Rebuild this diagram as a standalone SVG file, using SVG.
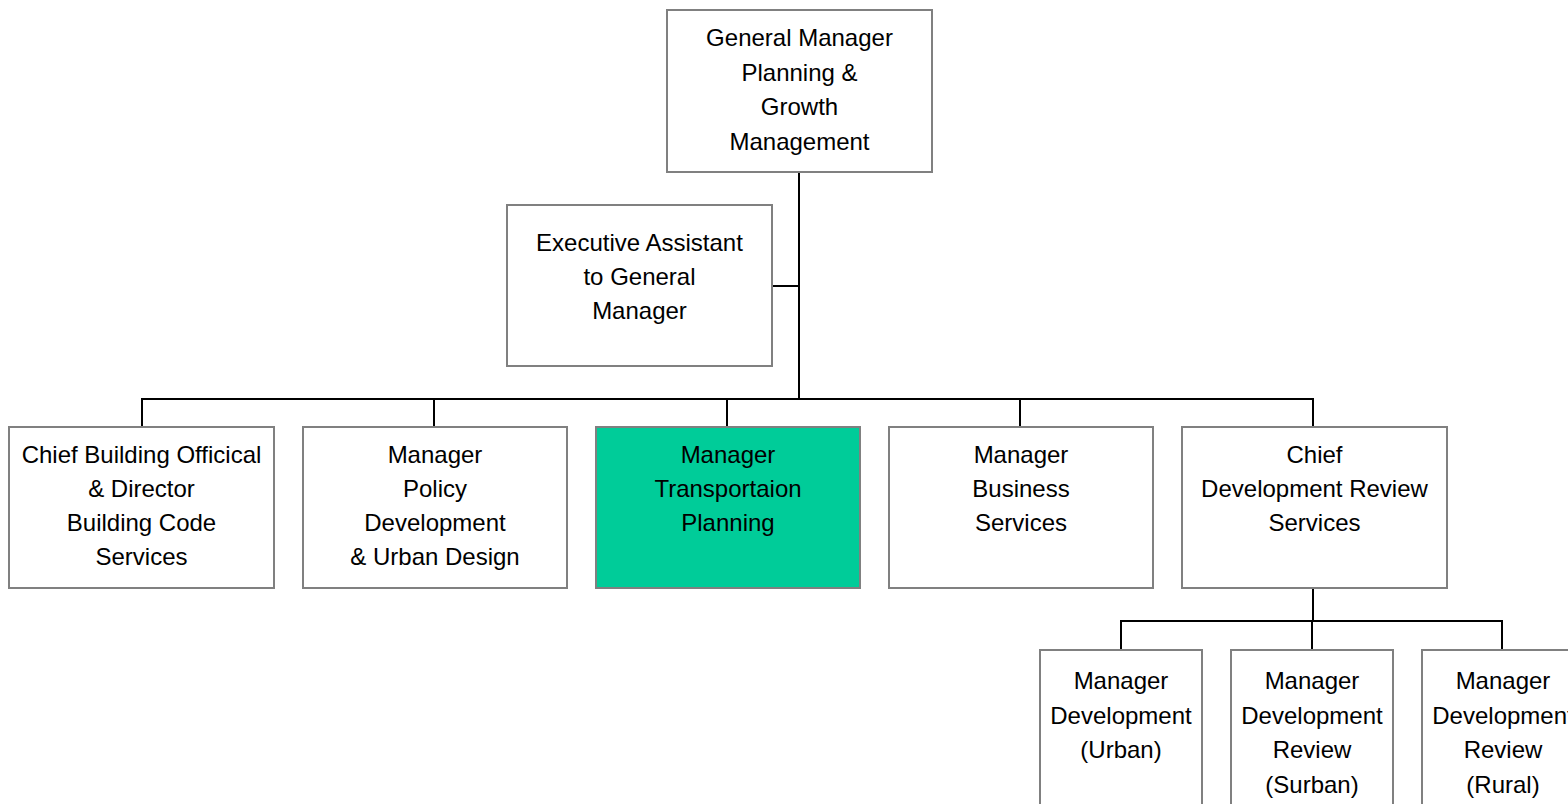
<svg xmlns="http://www.w3.org/2000/svg" width="1568" height="804" viewBox="0 0 1568 804">
  <style>
    .box { fill: #ffffff; stroke: #808080; stroke-width: 2; }
    .box.hl { fill: #00cc99; }
    .lbl { font-family: "Liberation Sans", Arial, sans-serif; font-size: 24px; fill: #000000; text-anchor: middle; }
    .wire { fill: none; stroke: #000000; stroke-width: 2; }
  </style>
  <rect width="1568" height="804" fill="#ffffff"/>

  <!-- reporting lines -->
  <g id="connectors">
    <path class="wire" d="M799 172 V399"/>
    <path class="wire" d="M772 286 H799"/>
    <path class="wire" d="M142 427 V399 H1313 V427"/>
    <path class="wire" d="M434 399 V427 M727 399 V427 M1020 399 V427"/>
    <path class="wire" d="M1313 588 V621"/>
    <path class="wire" d="M1121 650 V621 H1502 V650 M1312 621 V650"/>
  </g>

  <g id="general-manager">
    <rect class="box" x="667" y="10" width="265" height="162"/>
    <text class="lbl" x="799.5" y="46">General Manager</text>
    <text class="lbl" x="799.5" y="80.5">Planning &amp;</text>
    <text class="lbl" x="799.5" y="115">Growth</text>
    <text class="lbl" x="799.5" y="149.5">Management</text>
  </g>

  <g id="executive-assistant">
    <rect class="box" x="507" y="205" width="265" height="161"/>
    <text class="lbl" x="639.5" y="251">Executive Assistant</text>
    <text class="lbl" x="639.5" y="285">to General</text>
    <text class="lbl" x="639.5" y="319">Manager</text>
  </g>

  <g id="chief-building-official">
    <rect class="box" x="9" y="427" width="265" height="161"/>
    <text class="lbl" x="141.5" y="463">Chief Building Officical</text>
    <text class="lbl" x="141.5" y="497">&amp; Director</text>
    <text class="lbl" x="141.5" y="531">Building Code</text>
    <text class="lbl" x="141.5" y="565">Services</text>
  </g>

  <g id="policy-development">
    <rect class="box" x="303" y="427" width="264" height="161"/>
    <text class="lbl" x="435" y="463">Manager</text>
    <text class="lbl" x="435" y="497">Policy</text>
    <text class="lbl" x="435" y="531">Development</text>
    <text class="lbl" x="435" y="565">&amp; Urban Design</text>
  </g>

  <g id="transportation-planning">
    <rect class="box hl" x="596" y="427" width="264" height="161"/>
    <text class="lbl" x="728" y="463">Manager</text>
    <text class="lbl" x="728" y="497">Transportaion</text>
    <text class="lbl" x="728" y="531">Planning</text>
  </g>

  <g id="business-services">
    <rect class="box" x="889" y="427" width="264" height="161"/>
    <text class="lbl" x="1021" y="463">Manager</text>
    <text class="lbl" x="1021" y="497">Business</text>
    <text class="lbl" x="1021" y="531">Services</text>
  </g>

  <g id="development-review">
    <rect class="box" x="1182" y="427" width="265" height="161"/>
    <text class="lbl" x="1314.5" y="463">Chief</text>
    <text class="lbl" x="1314.5" y="497">Development Review</text>
    <text class="lbl" x="1314.5" y="531">Services</text>
  </g>

  <g id="development-urban">
    <rect class="box" x="1040" y="650" width="162" height="170"/>
    <text class="lbl" x="1121" y="689">Manager</text>
    <text class="lbl" x="1121" y="724">Development</text>
    <text class="lbl" x="1121" y="758">(Urban)</text>
  </g>

  <g id="review-suburban">
    <rect class="box" x="1231" y="650" width="162" height="170"/>
    <text class="lbl" x="1312" y="689">Manager</text>
    <text class="lbl" x="1312" y="724">Development</text>
    <text class="lbl" x="1312" y="758">Review</text>
    <text class="lbl" x="1312" y="793">(Surban)</text>
  </g>

  <g id="review-rural">
    <rect class="box" x="1422" y="650" width="162" height="170"/>
    <text class="lbl" x="1503" y="689">Manager</text>
    <text class="lbl" x="1503" y="724">Development</text>
    <text class="lbl" x="1503" y="758">Review</text>
    <text class="lbl" x="1503" y="793">(Rural)</text>
  </g>
</svg>
